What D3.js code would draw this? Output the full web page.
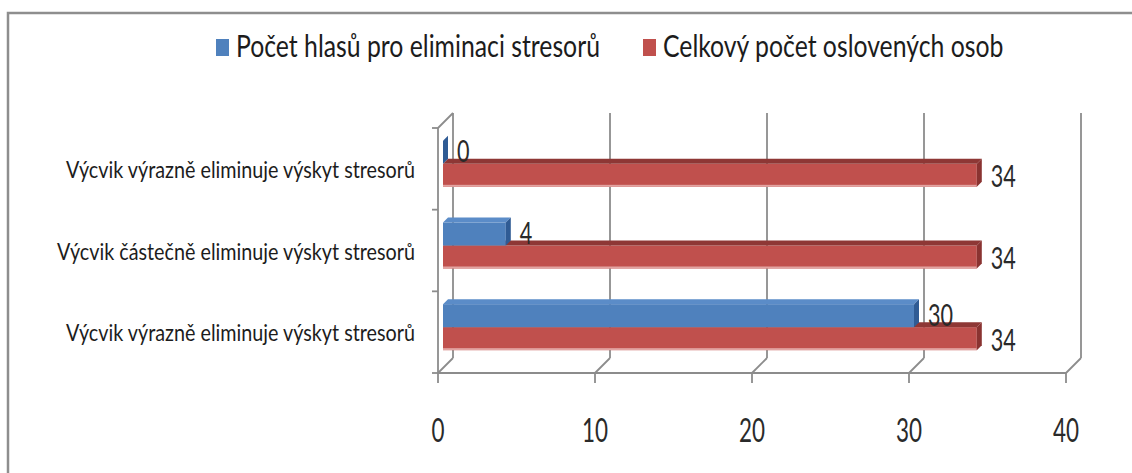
<!DOCTYPE html>
<html>
<head>
<meta charset="utf-8">
<script src="https://cdn.jsdelivr.net/npm/d3@7"></script>
<style>
  body { margin: 0; background: #ffffff; }
  svg { display: block; }
  text { font-family: Lato, "Open Sans", "DejaVu Sans", sans-serif; fill: #1c1c1c; }
</style>
</head>
<body>
<svg id="chart" width="1132" height="473"></svg>
<script>
// ---- data ----
const categories = [
  "Výcvik výrazně eliminuje výskyt stresorů",
  "Výcvik částečně eliminuje výskyt stresorů",
  "Výcvik výrazně eliminuje výskyt stresorů"
];
const seriesNames = ["Počet hlasů pro eliminaci stresorů", "Celkový počet oslovených osob"];
const votes  = [0, 4, 30];
const totals = [34, 34, 34];
const xTicks = [0, 10, 20, 30, 40];

// ---- styling ----
const colors = [
  { front: "#4F81BD", top: "#5B8CC8", side: "#2F5B94", edge: "#7FA3D3" },
  { front: "#C0504D", top: "#8E3735", side: "#8A3331", edge: "#E2A3A1" }
];
const gridColor = "#8c8c8c";

const svg = d3.select("#chart");

// outer frame (top and left edges visible)
svg.append("path")
  .attr("d", "M8,473 V13 H1132")
  .attr("fill", "none")
  .attr("stroke", "#8e8e8e")
  .attr("stroke-width", 2.5);

// ---- scales ----
const x = d3.scaleLinear().domain([0, 40]).range([438, 1066]);
const y = d3.scaleBand()
  .domain(d3.range(categories.length))
  .range([128, 373])
  .paddingInner(0.437)
  .paddingOuter(0.2185);
const ys = d3.scaleBand().domain(d3.range(seriesNames.length)).range([0, y.bandwidth()]);

const depth = { dx: 15, dy: -15 };   // floor / back wall depth
const barOff = { dx: 5, dy: -5 };    // position of bar front faces
const barDepth = { dx: 5, dy: -5 };  // thickness of the bars

const [yTop, yBottom] = y.range();
const gBack = svg.append("g").attr("stroke", gridColor).attr("stroke-width", 1.8).attr("fill", "none");

// back-wall gridlines and floor connectors
xTicks.forEach(t => {
  const xf = x(t), xb = x(t) + depth.dx;
  gBack.append("line").attr("x1", xb).attr("x2", xb)
    .attr("y1", yTop + depth.dy).attr("y2", yBottom + depth.dy);
  gBack.append("line").attr("x1", xf).attr("y1", yBottom)
    .attr("x2", xb).attr("y2", yBottom + depth.dy);
  gBack.append("line").attr("x1", xf).attr("x2", xf)
    .attr("y1", yBottom).attr("y2", yBottom + 10);
});
// front floor edge
gBack.append("line").attr("x1", x(0)).attr("x2", x(40)).attr("y1", yBottom).attr("y2", yBottom);
// left wall front edge and its top connector
gBack.append("line").attr("x1", x(0)).attr("x2", x(0)).attr("y1", yTop).attr("y2", yBottom);
gBack.append("line").attr("x1", x(0)).attr("y1", yTop)
  .attr("x2", x(0) + depth.dx).attr("y2", yTop + depth.dy);
// category tick marks
d3.range(categories.length + 1).forEach(i => {
  const ty = Math.min(yTop + i * y.step(), yBottom);
  gBack.append("line").attr("x1", x(0) - 6).attr("x2", x(0))
    .attr("y1", ty).attr("y2", ty);
});

// ---- 3D bars ----
const gBars = svg.append("g");
const barData = [];
categories.forEach((c, i) => {
  // red series drawn first so the blue bar sits over its top face
  barData.push({ cat: i, s: 1, v: totals[i] });
  barData.push({ cat: i, s: 0, v: votes[i] });
});

barData.forEach(d => {
  const col = colors[d.s];
  const x0 = x(0) + barOff.dx;
  const x1 = x(d.v) + barOff.dx;
  const y0 = y(d.cat) + ys(d.s) + barOff.dy;
  const y1 = y0 + ys.bandwidth();
  const g = gBars.append("g");
  // front face
  g.append("rect").attr("x", x0).attr("y", y0)
    .attr("width", Math.max(0, x1 - x0)).attr("height", y1 - y0)
    .attr("fill", col.front);
  // lighter lower edge on the red bars
  if (d.s === 1) {
    g.append("rect").attr("x", x0).attr("y", y1 - 2)
      .attr("width", Math.max(0, x1 - x0)).attr("height", 2)
      .attr("fill", col.edge);
  }
  // top face
  g.append("path")
    .attr("d", `M${x0},${y0} L${x1},${y0} L${x1 + barDepth.dx},${y0 + barDepth.dy} L${x0 + barDepth.dx},${y0 + barDepth.dy} Z`)
    .attr("fill", col.top);
  // right side face
  g.append("path")
    .attr("d", `M${x1},${y0} L${x1 + barDepth.dx},${y0 + barDepth.dy} L${x1 + barDepth.dx},${y1 + barDepth.dy} L${x1},${y1} Z`)
    .attr("fill", col.side);
});

// ---- text helpers ----
function squeeze(sel, k) {
  sel.each(function () {
    const len = this.getComputedTextLength();
    d3.select(this).attr("textLength", len * k).attr("lengthAdjust", "spacingAndGlyphs");
  });
}

// value labels
const gVals = svg.append("g");
const valSel = gVals.selectAll("text").data(barData).join("text")
  .attr("x", d => x(d.v) + barOff.dx + 14)
  .attr("y", d => y(d.cat) + ys(d.s) + barOff.dy + ys.bandwidth() / 2 + (d.s === 0 ? 10 : 12))
  .attr("font-size", 30)
  .style("fill", "#2a2a2a")
  .text(d => d.v);
squeeze(valSel, 0.72);

// category labels
const catSel = svg.append("g").selectAll("text").data(categories).join("text")
  .attr("x", 415)
  .attr("y", (d, i) => y(i) + y.bandwidth() / 2 + 9)
  .attr("text-anchor", "end")
  .attr("font-size", 23)
  .text(d => d);
{
  const ref = catSel.nodes()[1].getComputedTextLength();
  squeeze(catSel, 358 / ref);
}

// x tick labels
const tickSel = svg.append("g").selectAll("text").data(xTicks).join("text")
  .attr("x", d => x(d))
  .attr("y", 442)
  .attr("text-anchor", "middle")
  .attr("font-size", 33)
  .style("fill", "#2a2a2a")
  .text(d => d);
squeeze(tickSel, 0.68);

// ---- legend ----
const legendX = [216, 643];
const legend = svg.append("g").selectAll("g").data(seriesNames).join("g")
  .attr("transform", (d, i) => `translate(${legendX[i]},0)`);
legend.append("rect")
  .attr("x", 0).attr("y", 39).attr("width", 13).attr("height", 17)
  .attr("fill", (d, i) => colors[i].front);
const legText = legend.append("text")
  .attr("x", 20).attr("y", 57)
  .attr("font-size", 30)
  .text(d => d);
{
  const ref = legText.nodes()[0].getComputedTextLength();
  squeeze(legText, 364 / ref);
}
</script>
</body>
</html>
